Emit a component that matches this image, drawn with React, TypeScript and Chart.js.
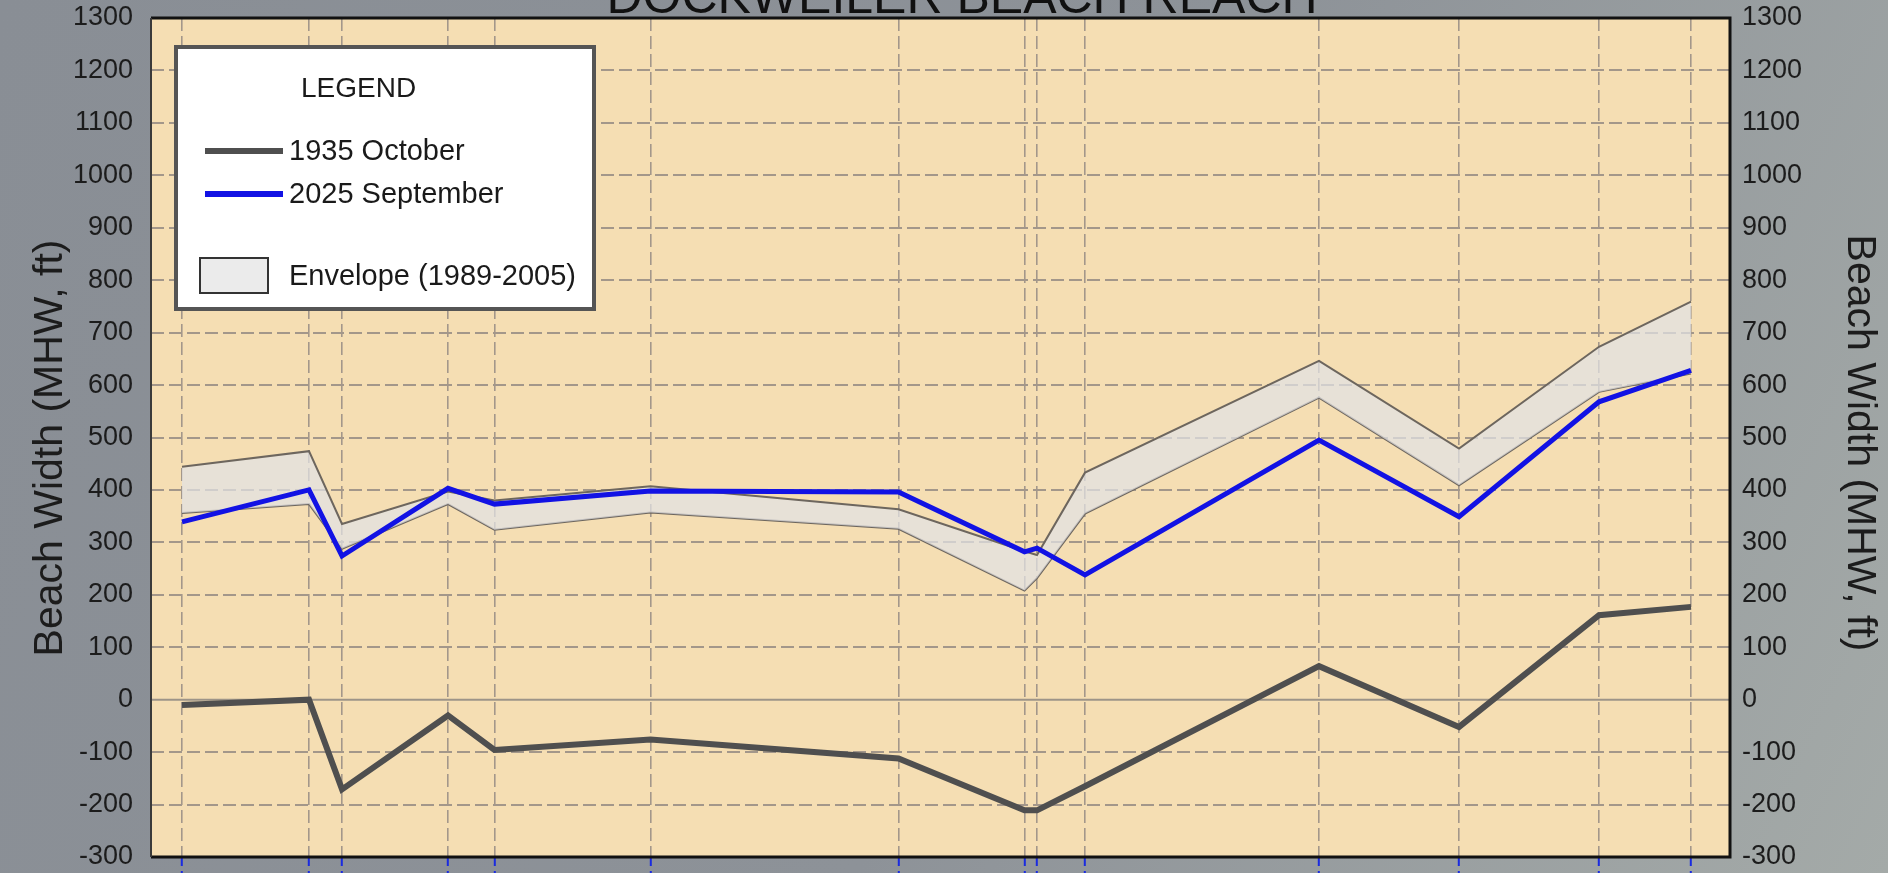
import React, { useEffect, useRef } from "react";
import { Chart, registerables } from "chart.js";

Chart.register(...registerables);

// Transect stations along the reach (alongshore position) and beach widths in feet.
const transectStations = [31, 158, 191, 297, 343.5, 499.5, 747.5, 873.5, 886, 934, 1168, 1308, 1448, 1540];
const width1935October = [-10, 0, -171, -30, -96, -76, -112, -211, -211, -165, 64, -52, 161, 177];
const width2025September = [339, 400, 274, 403, 373, 398, 396, 282, 289, 238, 495, 349, 568, 628];
const envelopeMax = [444, 474, 335, 397, 380, 407, 363, 283, 276, 433, 646, 479, 673, 759];
const envelopeMin = [356, 373, 288, 373, 324, 357, 326, 208, 232, 355, 576, 409, 587, 622];
const yTickValues = [-300, -200, -100, 0, 100, 200, 300, 400, 500, 600, 700, 800, 900, 1000, 1100, 1200, 1300];

const stationMin = 0;
const stationMax = 1579;
const titleText = "DOCKWEILER BEACH REACH";
const axisTitle = "Beach Width (MHW, ft)";
const legendTitle = "LEGEND";
const legendLabels = ["1935 October", "2025 September", "Envelope (1989-2005)"];

const FONT = "'Liberation Sans', Arial, Helvetica, sans-serif";
const COLOR_1935 = "#4f4f4f";
const COLOR_2025 = "#1212e4";
const COLOR_ENV = "#6d665e";
const ENV_FILL = "rgba(226,226,228,0.72)";

const pts = (ys: number[]) => transectStations.map((x, i) => ({ x, y: ys[i] }));

const backgroundPlugin = {
  id: "pageBackground",
  beforeDraw(chart: any) {
    const { ctx, width, height, chartArea } = chart;
    ctx.save();
    const g = ctx.createLinearGradient(0, 0, width, height);
    g.addColorStop(0, "#898e95");
    g.addColorStop(0.55, "#8d9298");
    g.addColorStop(1, "#a4aaa8");
    ctx.fillStyle = g;
    ctx.fillRect(0, 0, width, height);
    ctx.fillStyle = "#f5deb3";
    ctx.fillRect(chartArea.left, chartArea.top, chartArea.right - chartArea.left, chartArea.bottom - chartArea.top);
    ctx.restore();
  },
  beforeDatasetsDraw(chart: any) {
    // solid zero reference line
    const { ctx, chartArea, scales } = chart;
    const y0 = scales.y.getPixelForValue(0);
    ctx.save();
    ctx.strokeStyle = "#9d9488";
    ctx.lineWidth = 2;
    ctx.beginPath();
    ctx.moveTo(chartArea.left, y0);
    ctx.lineTo(chartArea.right, y0);
    ctx.stroke();
    ctx.restore();
  },
};

const frameAndLegendPlugin = {
  id: "frameAndLegend",
  afterDraw(chart: any) {
    const { ctx, chartArea } = chart;
    const { left, top, right, bottom } = chartArea;
    ctx.save();
    // plot frame
    ctx.strokeStyle = "#111";
    ctx.lineWidth = 3;
    ctx.beginPath();
    ctx.moveTo(left, top);
    ctx.lineTo(right, top);
    ctx.lineTo(right, bottom);
    ctx.lineTo(left, bottom);
    ctx.stroke();
    ctx.strokeStyle = "#3a3a3a";
    ctx.lineWidth = 2;
    ctx.beginPath();
    ctx.moveTo(left, top);
    ctx.lineTo(left, bottom);
    ctx.stroke();

    // title, partly above the canvas
    ctx.fillStyle = "#111";
    ctx.font = `50px ${FONT}`;
    ctx.textAlign = "center";
    ctx.textBaseline = "alphabetic";
    ctx.fillText(titleText, 962, 13);

    // axis titles on both sides
    ctx.font = `41px ${FONT}`;
    ctx.fillStyle = "#1c1c1c";
    ctx.textBaseline = "middle";
    ctx.save();
    ctx.translate(51, 448);
    ctx.rotate(-Math.PI / 2);
    ctx.fillText(axisTitle, 0, 0);
    ctx.restore();
    ctx.save();
    ctx.translate(1859, 443);
    ctx.rotate(Math.PI / 2);
    ctx.fillText(axisTitle, 0, 0);
    ctx.restore();

    // legend box
    const bx = left + 25;
    const by = top + 29;
    const bw = 418;
    const bh = 262;
    ctx.fillStyle = "#ffffff";
    ctx.fillRect(bx, by, bw, bh);
    ctx.strokeStyle = "#555555";
    ctx.lineWidth = 4;
    ctx.strokeRect(bx, by, bw, bh);

    ctx.fillStyle = "#1a1a1a";
    ctx.textAlign = "left";
    ctx.textBaseline = "middle";
    ctx.font = `28px ${FONT}`;
    ctx.fillText(legendTitle, bx + 125, by + 42);

    const sx0 = bx + 29;
    const sx1 = bx + 107;
    const tx = bx + 113;
    ctx.font = `29px ${FONT}`;

    ctx.lineWidth = 6;
    ctx.strokeStyle = COLOR_1935;
    ctx.beginPath();
    ctx.moveTo(sx0, by + 104);
    ctx.lineTo(sx1, by + 104);
    ctx.stroke();
    ctx.fillText(legendLabels[0], tx, by + 105);

    ctx.strokeStyle = COLOR_2025;
    ctx.beginPath();
    ctx.moveTo(sx0, by + 147);
    ctx.lineTo(sx1, by + 147);
    ctx.stroke();
    ctx.fillText(legendLabels[1], tx, by + 148);

    ctx.fillStyle = "#ebebeb";
    ctx.fillRect(bx + 24, by + 211, 68, 35);
    ctx.strokeStyle = "#333";
    ctx.lineWidth = 2;
    ctx.strokeRect(bx + 24, by + 211, 68, 35);
    ctx.fillStyle = "#1a1a1a";
    ctx.fillText(legendLabels[2], tx, by + 230);
    ctx.restore();
  },
};

export default function App() {
  const canvasRef = useRef<HTMLCanvasElement | null>(null);

  useEffect(() => {
    document.body.style.margin = "0";
    document.body.style.overflow = "hidden";
    const canvas = canvasRef.current;
    if (!canvas) return;

    const yTicksFromList = (scale: any) => {
      scale.ticks = yTickValues.map((value) => ({ value }));
    };
    const noPadding = (scale: any) => {
      scale.paddingTop = 0;
      scale.paddingBottom = 0;
      scale.paddingLeft = 0;
      scale.paddingRight = 0;
    };
    const gridColor = "#a3978a";

    const chart = new Chart(canvas, {
      type: "line",
      data: {
        datasets: [
          {
            label: legendLabels[1],
            data: pts(width2025September),
            borderColor: COLOR_2025,
            borderWidth: 5,
            pointRadius: 0,
            fill: false,
            tension: 0,
          },
          {
            label: legendLabels[0],
            data: pts(width1935October),
            borderColor: COLOR_1935,
            borderWidth: 6,
            pointRadius: 0,
            fill: false,
            tension: 0,
          },
          {
            label: "Envelope max",
            data: pts(envelopeMax),
            borderColor: COLOR_ENV,
            borderWidth: 2,
            pointRadius: 0,
            backgroundColor: ENV_FILL,
            fill: "+1",
            tension: 0,
          },
          {
            label: "Envelope min",
            data: pts(envelopeMin),
            borderColor: COLOR_ENV,
            borderWidth: 2,
            pointRadius: 0,
            fill: false,
            tension: 0,
          },
        ],
      },
      options: {
        animation: false,
        responsive: false,
        maintainAspectRatio: false,
        layout: { padding: { top: 18, left: 0, right: 0, bottom: 0 } },
        plugins: {
          legend: { display: false },
          title: { display: false },
          tooltip: { enabled: false },
        },
        scales: {
          x: {
            type: "linear",
            min: stationMin,
            max: stationMax,
            afterBuildTicks: (scale: any) => {
              scale.ticks = transectStations.map((value) => ({ value }));
            },
            afterFit: (scale: any) => {
              scale.height = 16;
              noPadding(scale);
            },
            ticks: { display: false },
            border: { display: false, dash: [13, 5] },
            grid: {
              color: gridColor,
              lineWidth: 1.6,
              drawTicks: true,
              tickLength: 16,
              tickColor: "#1a2be0",
              tickWidth: 2,
              tickBorderDash: [9, 5],
            },
          },
          y: {
            type: "linear",
            position: "left",
            min: -300,
            max: 1300,
            afterBuildTicks: yTicksFromList,
            afterFit: (scale: any) => {
              scale.width = 151;
              noPadding(scale);
            },
            ticks: {
              padding: 18,
              color: "#1c1c1c",
              font: { family: FONT, size: 27 },
              callback: (v: any) => String(v),
            },
            border: { display: false, dash: [13, 5] },
            grid: {
              drawTicks: false,
              lineWidth: 2,
              color: (c: any) => (c.tick && c.tick.value === 0 ? "rgba(0,0,0,0)" : gridColor),
            },
          },
          y2: {
            type: "linear",
            position: "right",
            min: -300,
            max: 1300,
            afterBuildTicks: yTicksFromList,
            afterFit: (scale: any) => {
              scale.width = 158;
              noPadding(scale);
            },
            ticks: {
              padding: 12,
              color: "#1c1c1c",
              font: { family: FONT, size: 27 },
              callback: (v: any) => String(v),
            },
            border: { display: false },
            grid: { drawOnChartArea: false, drawTicks: false },
          },
        },
      },
      plugins: [backgroundPlugin, frameAndLegendPlugin],
    });

    return () => chart.destroy();
  }, []);

  return <canvas ref={canvasRef} width={1888} height={873} style={{ display: "block" }} />;
}
